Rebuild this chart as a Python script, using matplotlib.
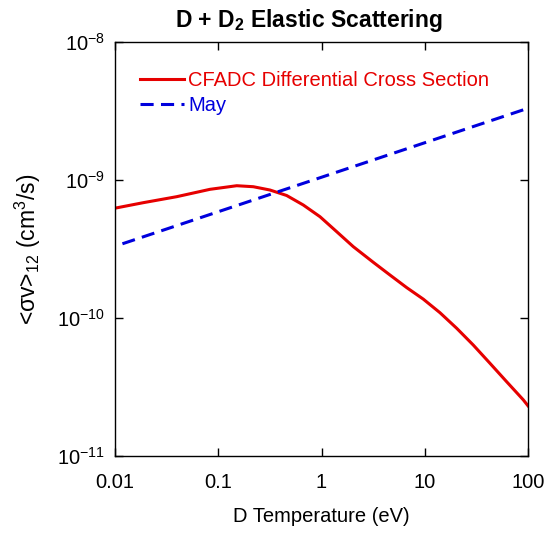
import matplotlib
matplotlib.use("Agg")
import matplotlib.pyplot as plt
from matplotlib.ticker import FixedLocator, FixedFormatter, NullLocator

# CFADC differential cross section
cfadc_T = [0.01, 0.0188, 0.0396, 0.0832, 0.151, 0.2185, 0.317, 0.460, 0.666,
           0.967, 1.404, 2.03, 3.18, 4.6, 6.69, 9.68, 14.05, 20.4, 29.5,
           42.9, 62.2, 90.1, 100]
cfadc_sv = [6.25e-10, 6.85e-10, 7.57e-10, 8.56e-10, 9.09e-10, 8.94e-10,
            8.46e-10, 7.72e-10, 6.59e-10, 5.42e-10, 4.22e-10, 3.29e-10,
            2.53e-10, 2.05e-10, 1.66e-10, 1.37e-10, 1.092e-10, 8.42e-11,
            6.37e-11, 4.69e-11, 3.45e-11, 2.55e-11, 2.31e-11]

# May rate
may_T = [0.0118, 0.1, 1, 10, 100]
may_sv = [3.45e-10, 5.89e-10, 1.047e-9, 1.862e-9, 3.31e-9]

xticks = [0.01, 0.1, 1, 10, 100]
xtick_labels = ["0.01", "0.1", "1", "10", "100"]
yticks = [1e-11, 1e-10, 1e-9, 1e-8]
ytick_labels = [r"10$^{-11}$", r"10$^{-10}$", r"10$^{-9}$", r"10$^{-8}$"]

plt.rcParams["font.family"] = ["Liberation Sans", "DejaVu Sans"]
plt.rcParams["mathtext.fontset"] = "custom"
plt.rcParams["mathtext.rm"] = "Liberation Sans"
plt.rcParams["mathtext.it"] = "Liberation Sans"
plt.rcParams["mathtext.bf"] = "Liberation Sans:bold"

red = "#e60000"
blue = "#0000dd"
fs = 14.5

fig = plt.figure(figsize=(5.5, 5.36), dpi=100)
ax = fig.add_axes([115 / 550, 80 / 536, 413 / 550, 414 / 536])

ax.plot(cfadc_T, cfadc_sv, color=red, lw=2.2, solid_joinstyle="round",
        label="CFADC Differential Cross Section")
ax.plot(may_T, may_sv, color=blue, lw=2.2, dashes=(4.3, 2.4), label="May")

ax.set_xscale("log")
ax.set_yscale("log")
ax.set_xlim(0.01, 100)
ax.set_ylim(1e-11, 1e-8)

ax.xaxis.set_major_locator(FixedLocator(xticks))
ax.xaxis.set_major_formatter(FixedFormatter(xtick_labels))
ax.yaxis.set_major_locator(FixedLocator(yticks))
ax.yaxis.set_major_formatter(FixedFormatter(ytick_labels))
ax.xaxis.set_minor_locator(NullLocator())
ax.yaxis.set_minor_locator(NullLocator())
ax.tick_params(which="major", direction="in", length=6, width=1,
               top=True, right=True, labelsize=fs)
ax.tick_params(axis="x", pad=12)
ax.tick_params(axis="y", pad=7)
for s in ax.spines.values():
    s.set_linewidth(1)

ax.set_xlabel("D Temperature (eV)", fontsize=fs, labelpad=11)
ax.set_ylabel(r"<σv>$_{12}$ (cm$^3$/s)", fontsize=fs + 2, labelpad=10)

fig.text(309 / 550, 1 - 21 / 536, r"D + D$_\mathbf{2}$ Elastic Scattering",
         ha="center", va="center", fontsize=16.5, fontweight="bold")

leg = ax.legend(loc="upper left", bbox_to_anchor=(0.04, 0.95), frameon=False,
                fontsize=fs, handlelength=2.2, handletextpad=0.2,
                labelspacing=0.3, borderaxespad=0)
for t, c in zip(leg.get_texts(), [red, blue]):
    t.set_color(c)

fig.savefig("out.png", dpi=100)
